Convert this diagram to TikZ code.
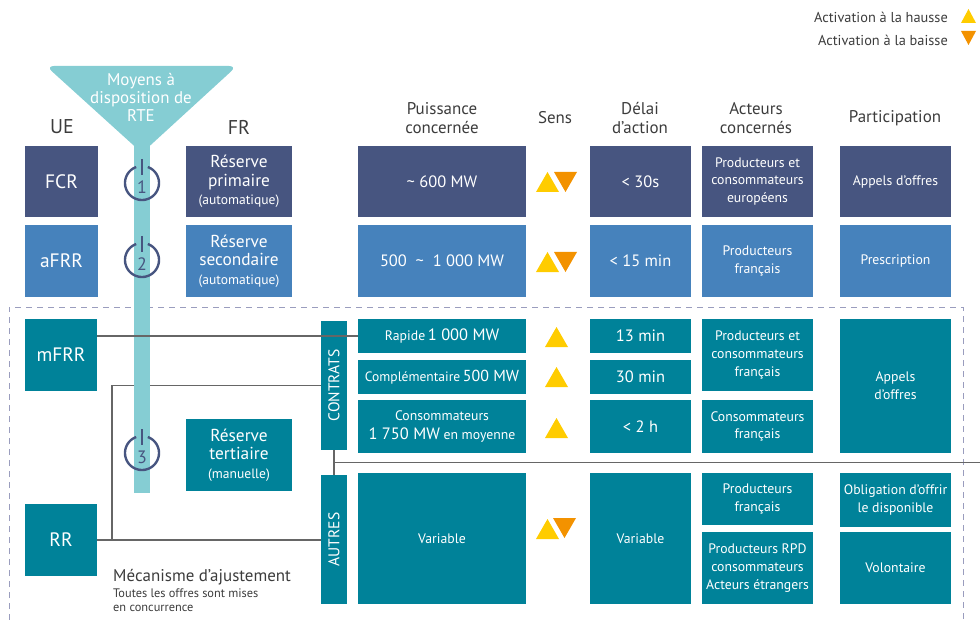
\documentclass[tikz,border=0pt]{standalone}
\usepackage{fontspec}
\setmainfont{PT Sans}
\newcommand\fs[2]{\fontsize{#1}{#2}\selectfont}
\definecolor{navy}{HTML}{475580}
\definecolor{bluebox}{HTML}{4682BC}
\definecolor{teal}{HTML}{008299}
\definecolor{funnel}{HTML}{85CDD3}
\definecolor{yel}{HTML}{FFCC00}
\definecolor{org}{HTML}{F39200}
\definecolor{inktext}{HTML}{3C3C3C}
\definecolor{linegray}{HTML}{666666}
\definecolor{dashc}{HTML}{9A9DBE}
\tikzset{
  x=1bp,y=-1bp,
  boxbase/.style={inner sep=0pt,outer sep=0pt,text=white,align=center},
  navybox/.style={boxbase,fill=navy},
  bluefill/.style={boxbase,fill=bluebox},
  tealbox/.style={boxbase,fill=teal},
  conn/.style={draw=linegray,line width=1.2bp},
  connthick/.style={draw=linegray,line width=2.4bp},
  head/.style={text=inktext,align=center,font=\fs{17}{19}},
  big/.style={font=\fs{19.5}{20}},
  mid/.style={font=\fs{16.5}{18}},
  small/.style={font=\fs{13.8}{18}},
  reserve/.style={font=\fs{17.4}{18.5}},
  vertlab/.style={text=white,rotate=90,font=\fs{15.6}{16}},
}
\newcommand\bx[7]{\node[#1,minimum width={(#5-#3)*1bp},minimum height={(#6-#4)*1bp}] (#2) at ({(#3+#5)/2},{(#4+#6)/2}) {#7};}
\newcommand\upt[3][23]{\fill[yel] (#2,#3+20) -- (#2+#1,#3+20) -- (#2+#1/2,#3) -- cycle;}
\newcommand\dnt[3][23]{\fill[org] (#2,#3) -- (#2+#1,#3) -- (#2+#1/2,#3+20) -- cycle;}
\newcommand\ring[2]{%
  \draw[navy,line width=2.4bp] plot[smooth,domain=20:340,samples=50] ({142+17*sin(\x)},{#1-17*cos(\x)});
  \draw[navy,line width=2.2bp] (142,#1-24) -- (142,#1-8);
  \node[text=navy,font=\fs{18}{18}] (ring#2) at (142,#1+4.5) {#2};}
\begin{document}
\begin{tikzpicture}
\useasboundingbox (0,0) rectangle (980,620);
% dashed frame
\draw[dashc,line width=1bp,dash pattern=on 6bp off 5bp] (9,620) -- (9,307) -- (963,307) -- (963,620);
% left column
\bx{navybox,big}{fcr}{25}{146}{98}{217}{FCR}
\bx{bluefill,big}{afrr}{25}{225}{98}{297}{aFRR}
\bx{tealbox,big}{mfrr}{25}{319}{97}{391}{mFRR}
\bx{tealbox,big}{rr}{25}{504}{97}{576}{RR}
% FR column
\bx{navybox,reserve}{rp}{186}{146}{292}{217}{Réserve\\primaire\\{\fs{13.6}{18.5}(automatique)}}
\bx{bluefill,reserve}{rs}{186}{225}{292}{297}{Réserve\\secondaire\\{\fs{13.6}{18.5}(automatique)}}
\bx{tealbox,reserve}{rt}{186}{419}{292}{491}{Réserve\\tertiaire\\{\fs{13.6}{18.5}(manuelle)}}
% contracts
\bx{tealbox}{contrats}{321}{321}{347}{450}{}
\node[vertlab] (lc) at (contrats) {CONTRATS};
\bx{tealbox}{autres}{321}{475}{347}{604}{}
\node[vertlab] (la) at (autres) {AUTRES};
% puissance
\bx{navybox,mid}{p1}{358}{146}{526}{217}{\textasciitilde\ 600 MW}
\bx{bluefill,mid}{p2}{358}{225}{526}{297}{500 \ \textasciitilde\ \ 1 000 MW}
\bx{tealbox}{rapide}{358}{319}{526}{353}{{\fs{13.8}{15}Rapide} {\fs{16.5}{15}1 000 MW}}
\bx{tealbox}{compl}{358}{360}{526}{394}{{\fs{13.6}{15}Complémentaire} {\fs{16}{15}500 MW}}
\bx{tealbox,small}{conso}{358}{400}{526}{453}{Consommateurs\\[2bp]{\fs{16.5}{19}1 750 MW} {\fs{13.8}{19}en moyenne}}
\bx{tealbox,small}{pvar}{358}{473}{526}{604}{Variable}
% delai
\bx{navybox,mid}{d1}{590}{146}{691}{217}{< 30s}
\bx{bluefill,mid}{d2}{590}{225}{691}{297}{< 15 min}
\bx{tealbox,mid}{d3}{590}{319}{691}{353}{13 min}
\bx{tealbox,mid}{d4}{590}{360}{691}{394}{30 min}
\bx{tealbox,mid}{d5}{590}{400}{691}{453}{< 2 h}
\bx{tealbox,small}{d6}{590}{473}{691}{604}{Variable}
% acteurs
\bx{navybox,small}{a1}{702}{146}{813}{217}{Producteurs et\\consommateurs\\européens}
\bx{bluefill,small}{a2}{702}{225}{813}{297}{Producteurs\\français}
\bx{tealbox,small}{a3}{702}{319}{813}{391}{Producteurs et\\consommateurs\\français}
\bx{tealbox,small}{a4}{702}{400}{813}{453}{Consommateurs\\français}
\bx{tealbox,small}{a5}{702}{473}{813}{525}{Producteurs\\français}
\bx{tealbox,small}{a6}{702}{532}{813}{604}{Producteurs RPD\\consommateurs\\Acteurs étrangers}
% participation
\bx{navybox,small}{pa1}{840}{146}{951}{217}{Appels d’offres}
\bx{bluefill,small}{pa2}{840}{225}{951}{297}{Prescription}
\bx{tealbox,small}{pa3}{840}{319}{951}{453}{Appels\\d’offres}
\bx{tealbox,small}{pa4}{840}{473}{951}{527}{Obligation d’offrir\\le disponible}
\bx{tealbox,small}{pa5}{840}{532}{951}{604}{Volontaire}
% connectors behind the stem
\coordinate (jrr) at (112,540);
\coordinate (jmid) at (334,462.5);
\coordinate (edge) at (980,462.5);
\draw[conn] (contrats.west) -| (jrr);
\draw[conn] (rr.east) -- (autres.west |- rr.east);
\draw[conn] (contrats.south -| jmid) -- (autres.north -| jmid);
\draw[conn] (jmid) -- (edge);
% funnel
\fill[funnel] (134,140) rectangle (150,493);
\fill[funnel,rounded corners=8bp] (46,66) -- (237,66) -- (142,153) -- cycle;
\node[text=white,align=center,font=\fs{17}{18}] (moyens) at (141,97) {Moyens à\\disposition de\\RTE};
\draw[connthick] (mfrr.east |- rapide.west) -- (rapide.west);
\ring{183}{1}
\ring{260}{2}
\ring{453}{3}
% headings
\node[head,font=\fs{20}{20}] (hue) at (62,127) {UE};
\node[head,font=\fs{20}{20}] (hfr) at (239,127) {FR};
\node[head] (hp) at (442,118) {Puissance\\concernée};
\node[head] (hs) at (555,118) {Sens};
\node[head] (hd) at (640,118) {Délai\\d’action};
\node[head] (ha) at (756,118) {Acteurs\\concernés};
\node[head] (hpa) at (895,118) {Participation};
% sens triangles
\upt{536}{172}\dnt{554}{172}
\upt{536}{252}\dnt{554}{252}
\upt{545}{327}
\upt{545}{367}
\upt{545}{418}
\upt{536}{519}\dnt{553}{518}
% legend
\node[anchor=east,inner sep=0pt,text=inktext,font=\fs{14.4}{14}] (l1) at (948,17) {Activation à la hausse};
\node[anchor=east,inner sep=0pt,text=inktext,font=\fs{14.4}{14}] (l2) at (948,40) {Activation à la baisse};
\fill[yel] (961,23) -- (976,23) -- (968.5,9) -- cycle;
\fill[org] (961,31) -- (976,31) -- (968.5,45) -- cycle;
% note
\node[anchor=west,inner sep=0pt,text=inktext,font=\fs{17}{16}] (mec) at (113,577) {Mécanisme d’ajustement};
\node[anchor=north west,text=inktext,align=left,inner sep=0pt,font=\fs{12.4}{14}] (off) at (113,589) {Toutes les offres sont mises\\en concurrence};
\end{tikzpicture}
\end{document}
